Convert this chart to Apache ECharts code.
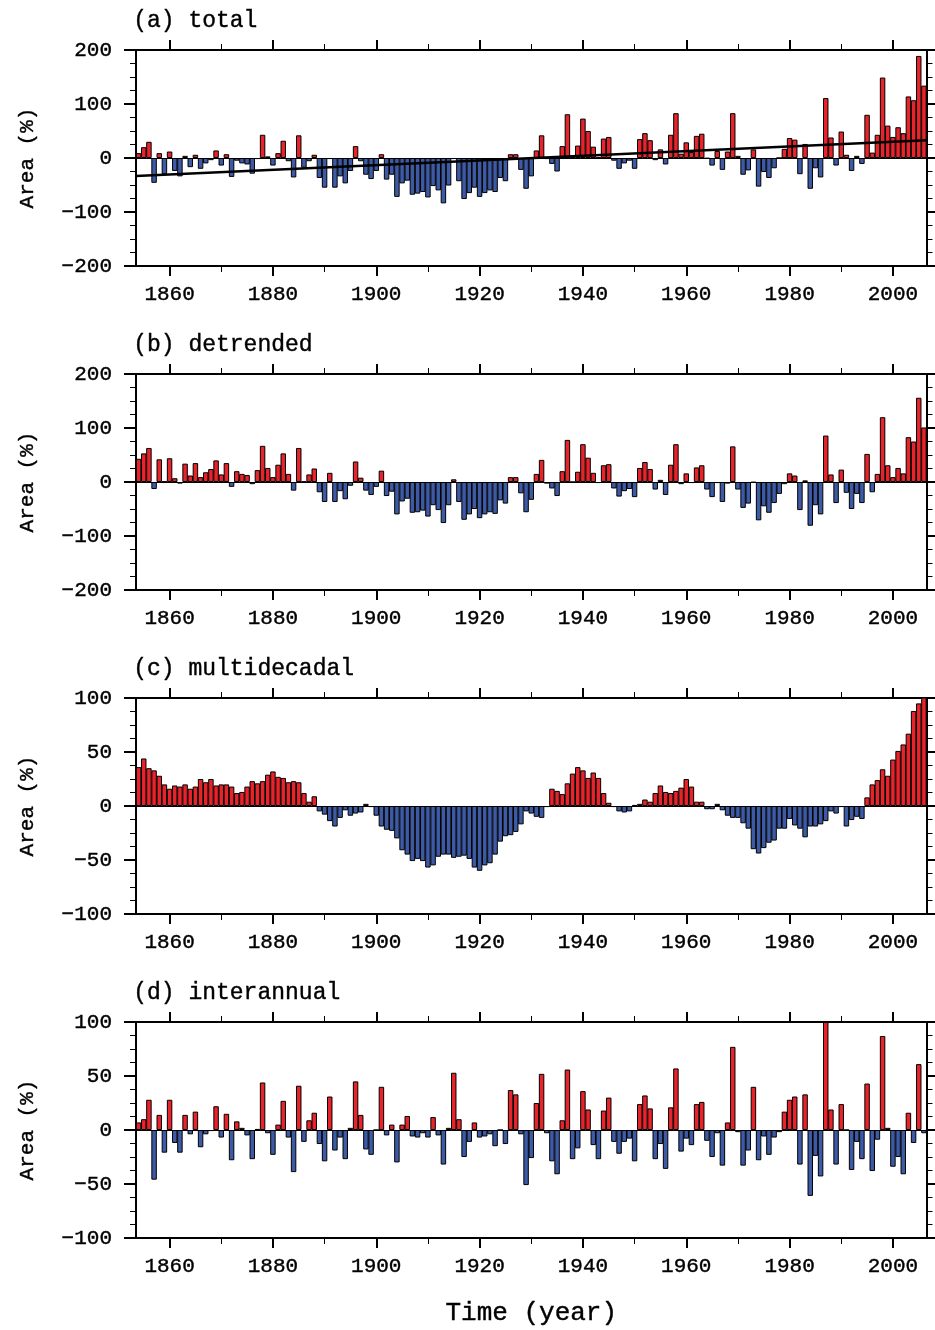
<!DOCTYPE html>
<html><head><meta charset="utf-8">
<script src="https://cdn.jsdelivr.net/npm/echarts@6/dist/echarts.min.js"></script>
<style>html,body{margin:0;padding:0;background:#fff}#chart{width:935px;height:1330px}</style>
</head><body><div id="chart"></div>
<script>
// ---------------- data ----------------
const startYear = 1854, endYear = 2006;
const years = [];
for (let y = startYear; y <= endYear; y++) years.push(y);

const total = [
 9,20,30,-46,9,-30,12,-24,-34,4,-17,6,-20,-10,-4,14,-14,7,-35,-5,-10,-12,-29,-2,43,3,-14,9,32,-6,
 -36,42,-18,-6,6,-37,-55,-2,-55,-34,-47,-24,22,-6,-31,-39,-24,7,-40,-31,-72,-47,-42,-68,-66,-63,-73,-52,-60,-84,
 -51,-2,-43,-76,-65,-55,-72,-65,-60,-63,-37,-43,7,7,-22,-57,-34,14,42,-2,-11,-25,22,81,2,23,73,50,21,1,
 36,39,-5,-20,-10,-5,-20,35,46,33,-4,16,-12,43,83,8,29,11,41,45,-1,-14,13,-22,12,83,4,-31,-23,16,
 -53,-26,-37,-19,0,17,37,34,-30,26,-57,-19,-36,111,38,-14,49,6,-24,4,-11,80,10,43,149,60,39,57,46,114,
 107,189,134
];
const detrended = [
 43,53,63,-13,42,1,44,7,-3,34,12,35,9,18,24,40,14,35,-9,20,15,13,-4,22,67,26,9,32,53,15,
 -16,63,1,14,25,-19,-37,17,-37,-17,-32,-7,38,8,-16,-24,-9,21,-26,-18,-60,-36,-31,-57,-56,-53,-64,-43,-52,-76,
 -43,5,-37,-70,-60,-50,-67,-60,-56,-59,-34,-40,9,9,-21,-56,-33,15,41,-3,-12,-26,20,78,0,19,70,45,17,-2,
 31,33,-12,-27,-17,-13,-28,26,37,24,-14,4,-24,32,70,-4,16,-2,27,31,-14,-28,-2,-37,-3,66,-14,-48,-40,-1,
 -71,-45,-57,-39,-22,-4,16,12,-52,3,-81,-43,-60,86,14,-39,23,-20,-50,-22,-39,52,-19,15,120,31,9,26,16,83,
 75,156,101
];
const multidecadal = [
 36,44,35,33,28,20,16,19,18,20,16,18,25,22,25,19,20,20,18,12,13,18,23,21,23,29,32,27,26,22,
 23,22,12,4,9,-5,-8,-14,-19,-11,-4,-9,-7,-6,2,-1,-9,-19,-22,-23,-30,-41,-45,-51,-49,-51,-57,-55,-47,-45,
 -45,-48,-47,-46,-49,-57,-60,-55,-53,-45,-33,-28,-27,-24,-17,-5,-7,-10,-11,-1,16,14,11,21,30,36,33,26,31,26,
 12,3,-1,-5,-6,-5,1,2,6,4,12,19,13,12,14,17,25,18,4,4,-3,-3,2,-4,-9,-11,-11,-16,-21,-40,
 -44,-39,-34,-32,-21,-21,-12,-18,-21,-29,-19,-19,-17,-14,-5,-7,-1,-19,-13,-10,-12,8,20,24,34,28,43,51,57,67,
 88,95,104
];
const interannual = [
 7,10,28,-46,14,-21,28,-12,-21,14,-4,17,-16,-4,-1,22,-7,15,-28,8,2,-5,-27,1,44,-3,-23,5,27,-7,
 -39,41,-11,9,16,-13,-29,31,-19,-7,-27,2,45,14,-18,-23,0,40,-5,5,-30,5,13,-6,-7,-3,-7,12,-5,-32,
 2,53,10,-25,-11,7,-7,-6,-4,-15,0,-13,37,33,-4,-51,-26,25,52,-3,-29,-41,9,56,-27,-17,36,19,-14,-27,
 18,30,-11,-22,-11,-8,-29,24,32,20,-27,-13,-36,21,57,-20,-8,-14,24,26,-10,-25,-3,-33,7,77,-2,-33,-19,40,
 -28,-6,-23,-7,-2,17,28,31,-32,33,-61,-24,-43,100,19,-32,24,0,-37,-11,-27,43,-38,-9,87,2,-34,-25,-41,16,
 -12,61,-3
];
// linear trend drawn in panel (a): end points
const trendYears = [1853.5, 2006.5];
const trendValues = [-33.5, 33];

const panelTitles = ['(a) total', '(b) detrended', '(c) multidecadal', '(d) interannual'];
const majorYears = [1860, 1880, 1900, 1920, 1940, 1960, 1980, 2000];
const minorYears = [1870, 1890, 1910, 1930, 1950, 1970, 1990];

// ---------------- layout / style ----------------
const FONT = 'Liberation Mono';
const STROKE = 0.4;
const RED = '#e8232a', BLUE = '#3d5aa6';
const gridLeft = 136, gridWidth = 790.5, gridHeight = 216;
const tops = [50, 374, 698, 1022];
const xMin = 1853.5, xMax = 2006.5;
const panelSeries = [total, detrended, multidecadal, interannual];
const yRanges = [[-200, 200, 100], [-200, 200, 100], [-100, 100, 50], [-100, 100, 50]];

const grids = [], xAxes = [], yAxes = [], series = [], graphics = [];
const fmt = v => (v < 0 ? '\u2212' + Math.abs(v) : String(v));

panelSeries.forEach((vals, p) => {
  grids.push({left: gridLeft, top: tops[p], width: gridWidth, height: gridHeight});
  const axisLine = {show: true, onZero: false, lineStyle: {color: '#000', width: 2}};
  const mkX = (position, ticks, len, w, labels) => ({
    type: 'value', gridIndex: p, min: xMin, max: xMax, position,
    axisLine, splitLine: {show: false},
    axisTick: {show: true, inside: false, length: len, lineStyle: {color: '#000', width: w}, customValues: ticks},
    axisLabel: labels ? {show: true, customValues: ticks, fontFamily: FONT, fontSize: 21, color: '#000',
      textBorderColor: '#000', textBorderWidth: STROKE, margin: 18, formatter: v => String(v)} : {show: false}
  });
  xAxes.push(mkX('bottom', majorYears, 10, 2, true));
  xAxes.push(mkX('bottom', minorYears, 6, 1, false));
  xAxes.push(mkX('top', majorYears, 10, 2, false));
  xAxes.push(mkX('top', minorYears, 6, 1, false));
  const [ymin, ymax, yint] = yRanges[p];
  const mkY = (position, labels) => ({
    type: 'value', gridIndex: p, min: ymin, max: ymax, interval: yint, position,
    axisLine, splitLine: {show: false},
    axisTick: {show: true, inside: false, length: 12, lineStyle: {color: '#000', width: 2}},
    minorTick: {show: true, splitNumber: 4, length: 6, lineStyle: {color: '#000', width: 1}},
    minorSplitLine: {show: false},
    axisLabel: labels ? {show: true, fontFamily: FONT, fontSize: 21, color: '#000',
      textBorderColor: '#000', textBorderWidth: STROKE, margin: 24, formatter: fmt} : {show: false}
  });
  yAxes.push(mkY('left', true));
  yAxes.push(mkY('right', false));

  series.push({
    type: 'bar', xAxisIndex: 4 * p, yAxisIndex: 2 * p, clip: true, animation: false,
    barWidth: gridWidth / (xMax - xMin) + 0.3,
    data: years.map((y, i) => ({value: [y, vals[i]], itemStyle: {color: vals[i] >= 0 ? RED : BLUE}})),
    itemStyle: {borderColor: '#000', borderWidth: 1},
    markLine: {silent: true, symbol: 'none', label: {show: false}, animation: false,
      lineStyle: {color: '#000', width: 1.2, type: 'solid'}, data: [{yAxis: 0}]}
  });

  graphics.push({type: 'text', left: 133, top: tops[p] - 41,
    style: {text: panelTitles[p], fontFamily: FONT, fontSize: 23, fill: '#000', stroke: '#000', lineWidth: STROKE}});
  graphics.push({type: 'text', x: 27, y: tops[p] + gridHeight / 2, rotation: Math.PI / 2,
    style: {text: 'Area (%)', fontFamily: FONT, fontSize: 21, fill: '#000', stroke: '#000', lineWidth: STROKE,
      align: 'center', verticalAlign: 'middle'}});
});

series.push({
  type: 'line', xAxisIndex: 0, yAxisIndex: 0, symbol: 'none', animation: false, z: 5,
  data: trendYears.map((x, i) => [x, trendValues[i]]),
  lineStyle: {color: '#000', width: 2.5}
});

graphics.push({type: 'text', x: gridLeft + gridWidth / 2, y: 1313,
  style: {text: 'Time (year)', fontFamily: FONT, fontSize: 26, fill: '#000', stroke: '#000', lineWidth: STROKE,
    align: 'center', verticalAlign: 'middle'}});

const chart = echarts.init(document.getElementById('chart'), null, {renderer: 'canvas'});
chart.setOption({
  animation: false,
  backgroundColor: '#fff',
  grid: grids, xAxis: xAxes, yAxis: yAxes, series, graphic: graphics
});
</script></body></html>
